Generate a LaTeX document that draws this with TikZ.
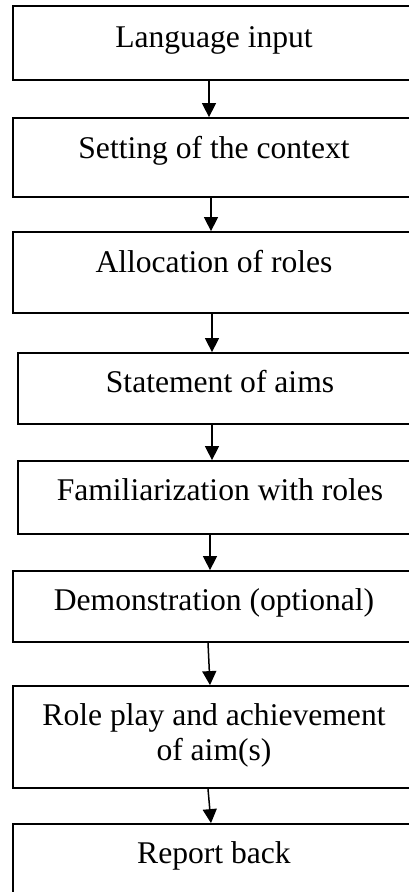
\documentclass[tikz,border=0pt]{standalone}
\usepackage{fontspec}
\setmainfont{Liberation Serif}
\usetikzlibrary{arrows.meta}
\tikzset{
  stagebox/.style={draw=black, line width=1.8pt, minimum width=402pt, inner sep=0pt},
  stagetext/.style={anchor=base, align=center, inner sep=0pt, font=\fontsize{31.6}{35}\selectfont},
  arr/.style={line width=1.5pt, -{Triangle[width=14pt,length=14pt]}}
}
\begin{document}
\begin{tikzpicture}[x=1pt,y=-1pt]
\useasboundingbox (0,0) rectangle (409,892);
\clip (0,0) rectangle (409,892);
\fill[white] (0,0) rectangle (409,892);
\node[stagebox, minimum height=74pt] (b1) at (214,43) {};
\node[stagebox, minimum height=79pt] (b2) at (214,157.5) {};
\node[stagebox, minimum height=81pt] (b3) at (214,272.5) {};
\node[stagebox, minimum height=71pt, minimum width=404pt] (b4) at (220,388.5) {};
\node[stagebox, minimum height=73pt, minimum width=404pt] (b5) at (220,497.5) {};
\node[stagebox, minimum height=71pt] (b6) at (214,606.5) {};
\node[stagebox, minimum height=102pt] (b7) at (214,737) {};
\node[stagebox, minimum height=80pt] (b8) at (214,864) {};
\node[stagetext] (t1) at (214,47) {Language input};
\node[stagetext] (t2) at (214,158) {Setting of the context};
\node[stagetext] (t3) at (214,272) {Allocation of roles};
\node[stagetext] (t4) at (220,392) {Statement of aims};
\node[stagetext] (t5) at (220,500) {Familiarization with roles};
\node[stagetext] (t6) at (214,610) {Demonstration (optional)};
\node[stagetext, anchor=north] (t7) at (214,703) {Role play and achievement\\of aim(s)};
\node[stagetext] (t8) at (214,863) {Report back};
\draw[arr] ([xshift=-5pt]b1.south) -- ([xshift=-5pt]b2.north);
\draw[arr] ([xshift=-3pt]b2.south) -- ([xshift=-3pt]b3.north);
\draw[arr] ([xshift=-2pt]b3.south) -- ([xshift=-8pt]b4.north);
\draw[arr] ([xshift=-8pt]b4.south) -- ([xshift=-8pt]b5.north);
\draw[arr] ([xshift=-10pt]b5.south) -- ([xshift=-4pt]b6.north);
\draw[arr] ([xshift=-6pt]b6.south) -- ([xshift=-4pt]b7.north);
\draw[arr] ([xshift=-6pt]b7.south) -- ([xshift=-3pt]b8.north);
\end{tikzpicture}
\end{document}
